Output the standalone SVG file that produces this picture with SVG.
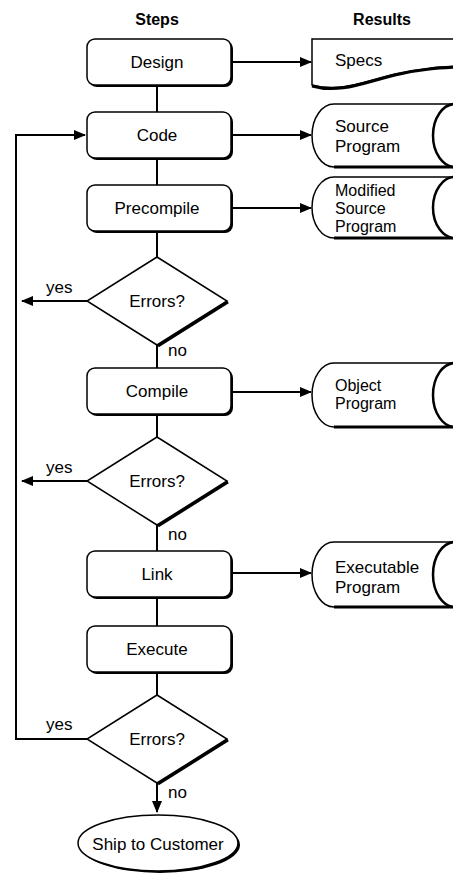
<svg xmlns="http://www.w3.org/2000/svg" width="453" height="873" viewBox="0 0 453 873">
<style>
text{font-family:"Liberation Sans",Arial,sans-serif;font-size:17px;fill:#000}
.h{font-weight:bold;font-size:16px}
.c{text-anchor:middle}
.s{font-size:16px}
.box{fill:#fff;stroke:#000;stroke-width:1.5}
.sh{fill:#000}
.ln{stroke:#000;stroke-width:2;fill:none}
.th{stroke:#000;stroke-width:3;fill:none}
</style>
<defs>
<marker id="ah" markerWidth="12" markerHeight="10" refX="11" refY="5" orient="auto" markerUnits="userSpaceOnUse">
<path d="M0,0 L12,5 L0,10 Z" fill="#000"/>
</marker>
</defs>
<rect width="453" height="873" fill="#fff"/>
<text class="h c" x="157" y="25">Steps</text>
<text class="h c" x="382" y="25">Results</text>

<g id="connectors">
<line class="ln" x1="157" y1="85" x2="157" y2="112"/>
<line class="ln" x1="157" y1="158" x2="157" y2="186"/>
<line class="ln" x1="157" y1="231" x2="157" y2="257"/>
<line class="ln" x1="157" y1="345" x2="157" y2="368"/>
<line class="ln" x1="157" y1="414" x2="157" y2="437"/>
<line class="ln" x1="157" y1="525" x2="157" y2="551"/>
<line class="ln" x1="157" y1="597" x2="157" y2="626"/>
<line class="ln" x1="157" y1="672" x2="157" y2="695"/>
<line class="ln" x1="157" y1="783" x2="157" y2="812" marker-end="url(#ah)"/>
<line class="ln" x1="233" y1="62" x2="311" y2="62" marker-end="url(#ah)"/>
<line class="ln" x1="233" y1="135" x2="311" y2="135" marker-end="url(#ah)"/>
<line class="ln" x1="233" y1="208" x2="311" y2="208" marker-end="url(#ah)"/>
<line class="ln" x1="233" y1="392" x2="311" y2="392" marker-end="url(#ah)"/>
<line class="ln" x1="233" y1="573" x2="311" y2="573" marker-end="url(#ah)"/>
<line class="ln" x1="87" y1="301" x2="22" y2="301" marker-end="url(#ah)"/>
<line class="ln" x1="87" y1="481" x2="22" y2="481" marker-end="url(#ah)"/>
<polyline class="ln" points="87,739 16,739 16,135 85,135" marker-end="url(#ah)"/>
<text x="46" y="293">yes</text>
<text x="46" y="473">yes</text>
<text x="46" y="730">yes</text>
<text x="168" y="356">no</text>
<text x="168" y="540">no</text>
<text x="168" y="798">no</text>
</g>

<g id="design">
<rect class="sh" x="89" y="41" width="144" height="46" rx="8"/>
<rect class="box" x="87" y="39" width="144" height="46" rx="8"/>
<text class="c" x="157" y="68">Design</text>
</g>
<g id="code">
<rect class="sh" x="89" y="114" width="144" height="46" rx="8"/>
<rect class="box" x="87" y="112" width="144" height="46" rx="8"/>
<text class="c" x="157" y="141">Code</text>
</g>
<g id="precompile">
<rect class="sh" x="89" y="187" width="144" height="46" rx="8"/>
<rect class="box" x="87" y="185" width="144" height="46" rx="8"/>
<text class="c" x="157" y="214">Precompile</text>
</g>
<g id="errors1">
<polygon class="box" points="157,257 227,301 157,345 87,301"/>
<line class="th" x1="228" y1="302" x2="158" y2="346"/>
<text class="c" x="157" y="307">Errors?</text>
</g>
<g id="compile">
<rect class="sh" x="89" y="370" width="144" height="46" rx="8"/>
<rect class="box" x="87" y="368" width="144" height="46" rx="8"/>
<text class="c" x="157" y="397">Compile</text>
</g>
<g id="errors2">
<polygon class="box" points="157,437 227,481 157,525 87,481"/>
<line class="th" x1="228" y1="482" x2="158" y2="526"/>
<text class="c" x="157" y="487">Errors?</text>
</g>
<g id="link">
<rect class="sh" x="89" y="553" width="144" height="46" rx="8"/>
<rect class="box" x="87" y="551" width="144" height="46" rx="8"/>
<text class="c" x="157" y="580">Link</text>
</g>
<g id="execute">
<rect class="sh" x="89" y="628" width="144" height="46" rx="8"/>
<rect class="box" x="87" y="626" width="144" height="46" rx="8"/>
<text class="c" x="157" y="655">Execute</text>
</g>
<g id="errors3">
<polygon class="box" points="157,695 227,739 157,783 87,739"/>
<line class="th" x1="228" y1="740" x2="158" y2="784"/>
<text class="c" x="157" y="745">Errors?</text>
</g>
<g id="ship">
<ellipse class="sh" cx="160" cy="845" rx="80" ry="28"/>
<ellipse class="box" cx="158" cy="843" rx="80" ry="28"/>
<text class="c" x="158" y="850">Ship to Customer</text>
</g>

<g id="specs">
<path class="box" d="M312,39 L460,39 L460,66 C440,67 420,68 395,74 C365,81 340,93 312,85 Z"/>
<path class="th" d="M312,86 C340,94 365,82 395,75 C420,69 440,68 460,67"/>
<text x="335" y="66">Specs</text>
</g>
<g id="source">
<path class="box" d="M460,104 L334,104 A22,31.5 0 0 0 334,167 L460,167"/>
<line class="th" x1="334" y1="167" x2="460" y2="167"/>
<ellipse cx="455" cy="135.5" rx="22" ry="31.5" fill="#fff" stroke="#000" stroke-width="2.5"/>
<text x="335" y="132">Source</text>
<text x="335" y="152">Program</text>
</g>
<g id="modified">
<path class="box" d="M460,177 L334,177 A22,30.5 0 0 0 334,238 L460,238"/>
<line class="th" x1="334" y1="238" x2="460" y2="238"/>
<ellipse cx="455" cy="207.5" rx="22" ry="30.5" fill="#fff" stroke="#000" stroke-width="2.5"/>
<text class="s" x="335" y="196">Modified</text>
<text class="s" x="335" y="214">Source</text>
<text class="s" x="335" y="232">Program</text>
</g>
<g id="object">
<path class="box" d="M460,363 L334,363 A22,32 0 0 0 334,427 L460,427"/>
<line class="th" x1="334" y1="427" x2="460" y2="427"/>
<ellipse cx="455" cy="395" rx="22" ry="32" fill="#fff" stroke="#000" stroke-width="2.5"/>
<text class="s" x="335" y="391">Object</text>
<text class="s" x="335" y="409">Program</text>
</g>
<g id="executable">
<path class="box" d="M460,542 L334,542 A22,32.5 0 0 0 334,607 L460,607"/>
<line class="th" x1="334" y1="607" x2="460" y2="607"/>
<ellipse cx="455" cy="574.5" rx="22" ry="32.5" fill="#fff" stroke="#000" stroke-width="2.5"/>
<text x="335" y="573">Executable</text>
<text x="335" y="593">Program</text>
</g>
</svg>
